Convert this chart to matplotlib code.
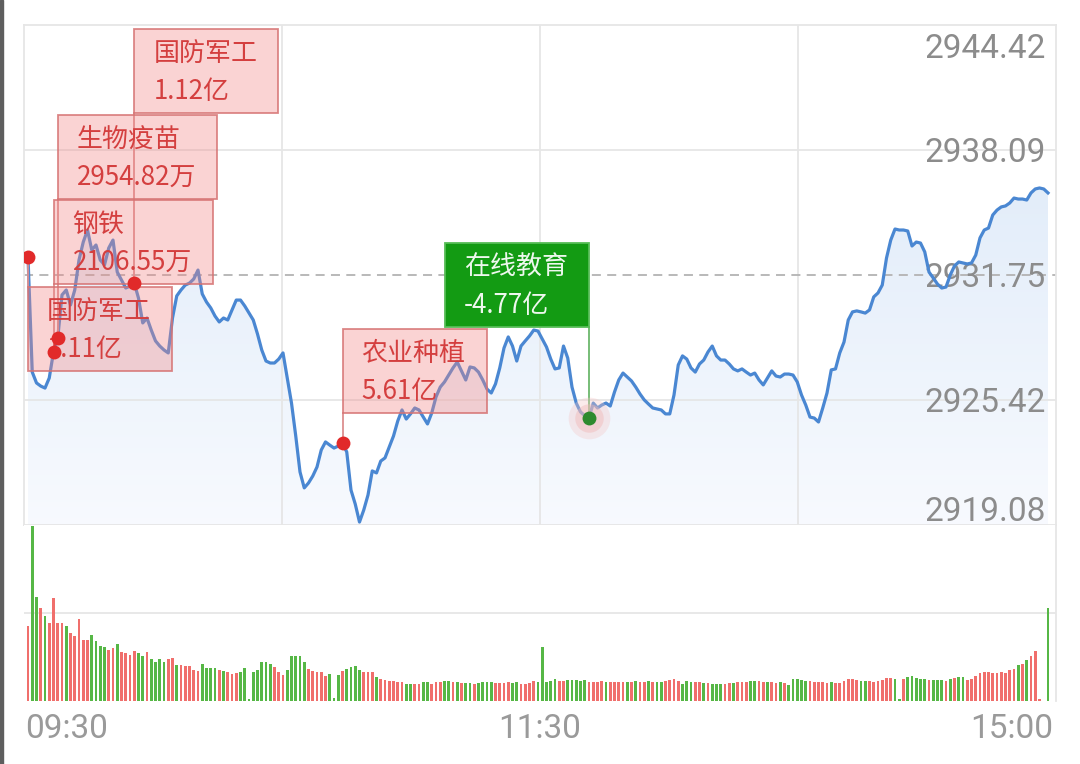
import matplotlib
matplotlib.use("Agg")
import matplotlib.pyplot as plt
import numpy as np
from matplotlib.patches import Rectangle, Polygon
from matplotlib import transforms

plt.rcParams['font.family'] = ['Noto Sans CJK SC', 'DejaVu Sans']

# index minute line, 09:30 .. 11:30 | 13:01 .. 15:00 (241 points)
prices = [
    2932.66, 2926.83, 2926.28, 2926.12, 2926.02, 2926.53, 2927.85, 2928.56, 2930.74, 2930.99,
    2930.23, 2930.99, 2932.51, 2933.42, 2934.03, 2933.02, 2933.27, 2932.51, 2932.26, 2933.12,
    2933.52, 2931.90, 2931.50, 2931.09, 2931.19, 2931.34, 2930.58, 2929.32, 2929.57, 2928.96,
    2928.41, 2928.15, 2927.95, 2927.80, 2929.57, 2930.69, 2930.99, 2931.24, 2931.34, 2931.55,
    2932.00, 2930.79, 2930.38, 2930.08, 2929.67, 2929.37, 2929.57, 2929.47, 2929.98, 2930.48,
    2930.48, 2930.18, 2929.82, 2929.47, 2928.76, 2927.95, 2927.39, 2927.29, 2927.29, 2927.49,
    2927.80, 2926.53, 2925.26, 2923.59, 2921.77, 2920.96, 2921.21, 2921.56, 2922.02, 2922.88,
    2923.29, 2923.13, 2922.98, 2923.08, 2923.24, 2922.78, 2920.85, 2920.14, 2919.23, 2919.84,
    2920.60, 2921.82, 2921.72, 2922.32, 2922.48, 2923.03, 2923.59, 2924.35, 2924.91, 2924.45,
    2924.71, 2925.01, 2924.91, 2924.55, 2924.20, 2924.76, 2925.57, 2926.07, 2926.33, 2926.68,
    2927.04, 2927.34, 2926.89, 2926.43, 2927.09, 2927.04, 2926.83, 2926.43, 2925.97, 2925.77,
    2926.23, 2927.04, 2928.05, 2928.61, 2928.15, 2927.39, 2928.15, 2928.41, 2928.66, 2928.96,
    2928.91, 2928.51, 2928.10, 2927.49, 2926.99, 2927.04, 2928.15, 2927.54, 2926.07, 2925.26,
    2924.81, 2924.62, 2924.50, 2925.26, 2925.01, 2925.16, 2925.26, 2925.11, 2925.82, 2926.43,
    2926.78, 2926.58, 2926.38, 2926.07, 2925.72, 2925.42, 2925.21, 2925.01, 2924.96, 2924.91,
    2924.71, 2924.71, 2925.67, 2927.19, 2927.65, 2927.49, 2927.04, 2926.83, 2927.24, 2927.44,
    2927.85, 2928.15, 2927.65, 2927.44, 2927.44, 2927.24, 2926.99, 2926.89, 2926.99, 2926.83,
    2926.68, 2926.78, 2926.43, 2926.18, 2926.53, 2926.89, 2926.63, 2926.58, 2926.73, 2926.73,
    2926.68, 2926.33, 2925.67, 2925.16, 2924.55, 2924.50, 2924.30, 2925.01, 2925.77, 2926.94,
    2926.99, 2927.80, 2928.35, 2929.47, 2929.88, 2929.93, 2929.88, 2929.82, 2929.98, 2930.64,
    2930.84, 2931.24, 2932.61, 2933.52, 2934.08, 2934.03, 2934.03, 2933.98, 2933.22, 2933.42,
    2933.37, 2932.92, 2931.90, 2931.60, 2931.29, 2931.09, 2931.14, 2931.75, 2932.21, 2932.41,
    2932.36, 2932.31, 2932.36, 2932.76, 2933.63, 2934.03, 2934.13, 2934.79, 2935.04, 2935.20,
    2935.25, 2935.40, 2935.65, 2935.60, 2935.60, 2935.55, 2935.91, 2936.11, 2936.16, 2936.11,
    2935.91,
]

volumes = [
    75, 175, 104, 93, 85, 78, 103, 78, 78, 75,
    68, 65, 82, 61, 61, 66, 60, 55, 54, 51,
    53, 57, 49, 48, 46, 50, 48, 45, 49, 42,
    39, 42, 39, 42, 43, 36, 36, 35, 35, 31,
    30, 37, 33, 33, 33, 31, 30, 29, 27, 28,
    29, 33, 2, 29, 31, 39, 39, 37, 34, 29,
    26, 31, 45, 45, 45, 39, 32, 30, 29, 29,
    25, 27, 3, 26, 30, 32, 34, 35, 31, 29,
    29, 29, 24, 22, 21, 20, 20, 19, 19, 17,
    17, 17, 17, 19, 19, 17, 19, 19, 20, 20,
    19, 19, 18, 18, 18, 17, 18, 19, 19, 19,
    18, 18, 18, 19, 18, 19, 17, 17, 18, 20,
    19,
    54, 19, 20, 22, 20, 20, 21, 21, 21, 20,
    21, 19, 19, 19, 20, 19, 19, 19, 19, 19,
    19, 19, 20, 19, 19, 20, 19, 19, 19, 20,
    21, 22, 20, 17, 20, 19, 19, 19, 18, 18,
    17, 17, 17, 17, 18, 18, 19, 19, 19, 20,
    20, 20, 19, 19, 19, 18, 19, 18, 16, 22,
    22, 21, 20, 20, 19, 19, 19, 18, 19, 18,
    18, 20, 22, 22, 21, 20, 20, 20, 19, 20,
    21, 23, 23, 22, 2, 22, 24, 25, 23, 22,
    22, 21, 21, 21, 21, 20, 22, 23, 24, 24,
    21, 22, 25, 28, 29, 29, 28, 28, 29, 28,
    31, 32, 36, 37, 41, 45, 50, 2, 0, 93,
]

# R = up minute (red), G = down minute (green)
vol_dir = (
    "RGGRGRRRRG" "RRRRRGGGGR" "RGRRRRGGRG" "GGGRRGRRRR" "RGGGGRGRRR"
    "GGGGGGGGRR" "RGGGGGRRRR" "RGGGRGGGGR" "RRGRRRRRRG" "GRRGGRRRGG"
    "RGRGGRGGGG" "RRRRGGRRRR" "G"
    "GGGGRRGGGG" "GRRRRGRRRR" "GRGRRGRGGR" "RRRGGGRRGR" "GGGRRGRRRG"
    "GRRGRRGRGG" "GGGRRRRRGR" "RRRRRGGRRR" "RRRGGRGGGG" "GRGGGRGRGG"
    "RRRRRRRRRR" "RRGRGRRRGG"
)

price_ticks = [2944.42, 2938.09, 2931.75, 2925.42, 2919.08]
pre_close = 2931.75
time_labels = ['09:30', '11:30', '15:00']

ann_minutes = [0, 6, 7, 25, 74, 132]
ann_sectors = ['国防军工', '钢铁', '生物疫苗', '国防军工', '农业种植', '在线教育']
ann_amounts = ['1.11亿', '2106.55万', '2954.82万', '1.12亿', '5.61亿', '-4.77亿']
ann_inflow = [True, True, True, True, True, False]

# box layout in screen pixels: top edge, side of the dot the box sits on
box_top = [287, 200, 115, 29, 329, 243]
box_side = ['right', 'right', 'right', 'right', 'right', 'left']

W, H = 1080, 764
fig = plt.figure(figsize=(W / 100, H / 100), dpi=100)
fig.patch.set_facecolor('white')
L, R = 24, 1056
ax = fig.add_axes([L / W, 1 - 525 / H, (R - L) / W, 500 / H])
ax2 = fig.add_axes([L / W, 1 - 701 / H, (R - L) / W, 176 / H])

# thin dark phone edge on the left
fig.patches.append(Rectangle((0, 0), 3 / W, 1, transform=fig.transFigure, color='#5e5e5e'))

minutes = np.arange(len(prices))
n_last = len(prices) - 1
step = (1048 - 28) / n_last
x0 = -(28 - L) / step
x1 = n_last + (R - 1048) / step

grid_c = '#e6e6e6'
for a in (ax, ax2):
    a.set_xlim(x0, x1)
    a.set_xticks([])
    a.set_yticks([])
    for s in a.spines.values():
        s.set_color(grid_c)
        s.set_linewidth(1.3)

ymin, ymax = price_ticks[-1], price_ticks[0]
ax.set_ylim(ymin, ymax)

# grid
for v in price_ticks[1:-1]:
    if v == pre_close:
        ax.axhline(v, color='#b3b3b3', lw=1.3, ls=(0, (5, 3.5)), zorder=1.6)
    else:
        ax.axhline(v, color=grid_c, lw=1.3, zorder=1.5)
for k in (1, 2, 3):
    ax.axvline(x0 + k * (x1 - x0) / 4, color=grid_c, lw=1.3, zorder=1.5)

# gradient area under the line
poly = Polygon(np.column_stack([np.r_[minutes, minutes[-1], minutes[0]],
                                np.r_[prices, ymin, ymin]]),
               closed=True, fc='none', ec='none')
ax.add_patch(poly)
t = np.linspace(0, 1, 200)[:, None]
top_c = np.array([0.85, 0.905, 0.97])
bot_c = np.array([0.97, 0.98, 0.997])
rgb = top_c * (1 - t) + bot_c * t
img = np.repeat(rgb[:, None, :], 2, axis=1)
im = ax.imshow(img, extent=[x0, x1, ymin, ymax], aspect='auto', origin='upper', zorder=1)
im.set_clip_path(poly)
ax.set_xlim(x0, x1)
ax.set_ylim(ymin, ymax)

ax.plot(minutes, prices, color='#4a87d2', lw=2.3, zorder=3, solid_joinstyle='round')

# right-hand price labels
blend = transforms.blended_transform_factory(ax.transAxes, ax.transData)
for v in price_ticks:
    if v == price_ticks[0]:
        dy = -33
    elif v == price_ticks[-1]:
        dy = 4
    else:
        dy = -12
    tr = transforms.offset_copy(blend, fig=fig, y=dy, units='dots')
    ax.text(0.9903, v, f'{v:.2f}', transform=tr, ha='right', va='baseline',
            fontsize=24, color='#8c8c8c', family='Roboto', zorder=2)

# time labels
fig.text(25 / W, 1 - 738 / H, time_labels[0], ha='left', va='baseline',
         fontsize=24, color='#9a9a9a', family='Roboto')
fig.text(540 / W, 1 - 738 / H, time_labels[1], ha='center', va='baseline',
         fontsize=24, color='#9a9a9a', family='Roboto')
fig.text(1053 / W, 1 - 738 / H, time_labels[2], ha='right', va='baseline',
         fontsize=24, color='#9a9a9a', family='Roboto')

# fund-flow annotations
inv = ax.transData.inverted()
renderer = fig.canvas.get_renderer()


def to_data(xp, yp):
    return inv.transform((xp, H - yp))


for i, m in enumerate(ann_minutes):
    xd, yd = ax.transData.transform((m, prices[m]))
    dot_x, dot_y = xd, H - yd
    if ann_inflow[i]:
        face, edge, txt_c, line_c = (0.95, 0.53, 0.53, 0.36), (0.84, 0.45, 0.45, 0.85), '#d43f3f', '#dc8f8f'
    else:
        face, edge, txt_c, line_c = '#139b13', '#57bd57', '#eef8ee', '#6cb86c'

    top = box_top[i]
    bh = 84
    t1 = ax.text(0, 0, ann_sectors[i], fontsize=18.7, color=txt_c, va='baseline', zorder=6)
    t2 = ax.text(0, 0, ann_amounts[i], fontsize=18.7, color=txt_c, va='baseline', zorder=6)
    tw = max(t1.get_window_extent(renderer).width, t2.get_window_extent(renderer).width)
    bw = tw + 40
    left = dot_x if box_side[i] == 'right' else dot_x - bw

    bl = to_data(left, top + bh)
    tr_ = to_data(left + bw, top)
    ax.add_patch(Rectangle(bl, tr_[0] - bl[0], tr_[1] - bl[1], fc=face, ec=edge,
                           lw=1.3, zorder=5))
    t1.set_position(to_data(left + 19, top + 32))
    t2.set_position(to_data(left + 19, top + 70))

    # connector from box edge to the dot
    edge_y = top if top > dot_y else top + bh
    cx = to_data(dot_x, edge_y)
    ax.plot([m, m], [cx[1], prices[m]], color=line_c, lw=1.3, zorder=4.5)

    if ann_inflow[i]:
        ax.scatter([m], [prices[m]], s=100, color='#e12a2a', zorder=7, linewidths=0)
    else:
        ax.scatter([m], [prices[m]], s=900, color='#f4c6c6', alpha=0.35, zorder=6.5, linewidths=0)
        ax.scatter([m], [prices[m]], s=420, color='#f0b8b8', alpha=0.45, zorder=6.6, linewidths=0)
        ax.scatter([m], [prices[m]], s=100, color='#2e8a2e', zorder=7, linewidths=0)

# volume bars
vol_colors = ['#f06f6c' if d == 'R' else '#56b746' for d in vol_dir]
ax2.bar(minutes, volumes, width=0.62, color=vol_colors, linewidth=0, zorder=2)
vtop = max(volumes) * 1.006
ax2.set_ylim(0, vtop)
ax2.axhline(vtop / 2, color=grid_c, lw=1.3, zorder=1)
ax2.spines['bottom'].set_visible(False)
ax2.spines['left'].set_visible(False)
ax2.spines['top'].set_visible(False)

fig.savefig('out.png', dpi=100, facecolor='white')
